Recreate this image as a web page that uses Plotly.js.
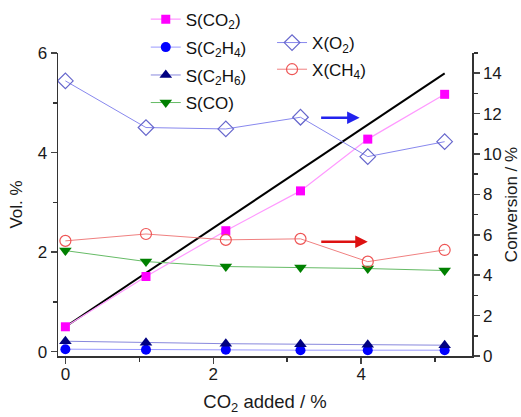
<!DOCTYPE html>
<html><head><meta charset="utf-8">
<script src="https://cdn.plot.ly/plotly-3.0.1.min.js"></script>
<style>html,body{margin:0;padding:0;background:#fff}#chart{width:521px;height:417px}</style>
</head><body><div id="chart"></div>
<script>
const co2Added = [0, 1.09, 2.17, 3.18, 4.09, 5.13];
const sCO2  = [0.50, 1.51, 2.43, 3.23, 4.27, 5.17];
const sC2H4 = [0.05, 0.04, 0.04, 0.03, 0.03, 0.03];
const sC2H6 = [0.21, 0.18, 0.16, 0.15, 0.14, 0.13];
const sCO   = [2.03, 1.81, 1.71, 1.69, 1.67, 1.63];
const xO2   = [13.62, 11.31, 11.24, 11.82, 9.87, 10.61];
const xCH4  = [5.70, 6.04, 5.75, 5.80, 4.67, 5.25];
const lineX = [0, 5.13];
const lineY = [0.50, 5.59];

const F = 'Arial, "Liberation Sans", sans-serif';
const traces = [
  {x: lineX, y: lineY, mode:'lines', line:{color:'#000', width:2}, showlegend:false, hoverinfo:'skip'},
  {x: co2Added, y: sC2H4, name:'S(C<sub>2</sub>H<sub>4</sub>)', mode:'lines+markers', legend:'legend2',
   line:{color:'#9999ff', width:1}, marker:{symbol:'circle', size:10, color:'#0000ff'}},
  {x: co2Added, y: sC2H6, name:'S(C<sub>2</sub>H<sub>6</sub>)', mode:'lines+markers', legend:'legend3',
   line:{color:'#8888dd', width:1}, marker:{symbol:'triangle-up', size:11, color:'#000080'}},
  {x: co2Added, y: sCO, name:'S(CO)', mode:'lines+markers', legend:'legend4',
   line:{color:'#66bb66', width:1}, marker:{symbol:'triangle-down', size:11, color:'#008000'}},
  {x: co2Added, y: sCO2, name:'S(CO<sub>2</sub>)', mode:'lines+markers', legend:'legend',
   line:{color:'#ff99ff', width:1.2}, marker:{symbol:'square', size:9, color:'#ff00ff'}},
  {x: co2Added, y: xO2, name:'X(O<sub>2</sub>)', mode:'lines+markers', yaxis:'y2', legend:'legend5',
   line:{color:'#8888ee', width:1}, marker:{symbol:'diamond-open', size:12, color:'#6666cc', line:{width:1.2}}},
  {x: co2Added, y: xCH4, name:'X(CH<sub>4</sub>)', mode:'lines+markers', yaxis:'y2', legend:'legend6',
   line:{color:'#f08080', width:1}, marker:{symbol:'circle-open', size:11, color:'#ee5555', line:{width:1.2}}}
];

function leg(x, y){
  return {x:x, y:y, xanchor:'left', yanchor:'middle', bgcolor:'rgba(0,0,0,0)', borderwidth:0,
    font:{family:F, size:17, color:'#111'}, itemwidth:30};
}
const tickFont = {family:F, size:17, color:'#1a1a1a'};
const titleFont = {family:F, size:17, color:'#1a1a1a'};
const layout = {
  width:521, height:417,
  margin:{l:58, r:49, t:53, b:61, autoexpand:false},
  paper_bgcolor:'#fff', plot_bgcolor:'#fff',
  xaxis:{range:[-0.1,5.5], tickvals:[0,2,4], ticks:'outside', ticklen:6, tickwidth:1.5, ticklabelstandoff:-4,
    showline:true, linecolor:'#333', linewidth:1.5, showgrid:false, zeroline:false,
    minor:{tickvals:[1,3,5], ticks:'outside', ticklen:4, tickcolor:'#333'},
    tickfont:tickFont, title:{text:'CO<sub>2</sub> added / %', font:{family:F, size:18.5, color:'#1a1a1a'}, standoff:12}},
  yaxis:{range:[-0.087,6], tickvals:[0,2,4,6], ticks:'outside', ticklen:6, tickwidth:1.5,
    showline:true, linecolor:'#333', linewidth:1.5, showgrid:false, zeroline:false,
    minor:{tickvals:[1,3,5], ticks:'outside', ticklen:4, tickcolor:'#333'},
    tickfont:tickFont, title:{text:'Vol. %', font:titleFont, standoff:10}},
  yaxis2:{overlaying:'y', side:'right', range:[0,15], tickvals:[0,2,4,6,8,10,12,14], ticks:'outside', ticklen:6, tickwidth:1.5,
    showline:true, linecolor:'#333', linewidth:1.5, showgrid:false, zeroline:false,
    minor:{tickvals:[1,3,5,7,9,11,13,15], ticks:'outside', ticklen:4, tickcolor:'#333'},
    tickfont:tickFont, title:{text:'Conversion / %', font:titleFont, standoff:6}},
  legend: leg(0.212, 1.110),
  legend2: leg(0.212, 1.018),
  legend3: leg(0.212, 0.926),
  legend4: leg(0.212, 0.835),
  legend5: leg(0.517, 1.033),
  legend6: leg(0.517, 0.945),
  annotations:[
    {x:3.98, y:11.8, xref:'x', yref:'y2', ax:-40, ay:0, showarrow:true, arrowhead:2, arrowsize:1, arrowwidth:2.5, arrowcolor:'#2222ee', text:''},
    {x:4.09, y:5.65, xref:'x', yref:'y2', ax:-48, ay:0, showarrow:true, arrowhead:2, arrowsize:1, arrowwidth:2.5, arrowcolor:'#dd1111', text:''}
  ]
};
Plotly.newPlot('chart', traces, layout, {staticPlot:true, displayModeBar:false});
</script></body></html>
